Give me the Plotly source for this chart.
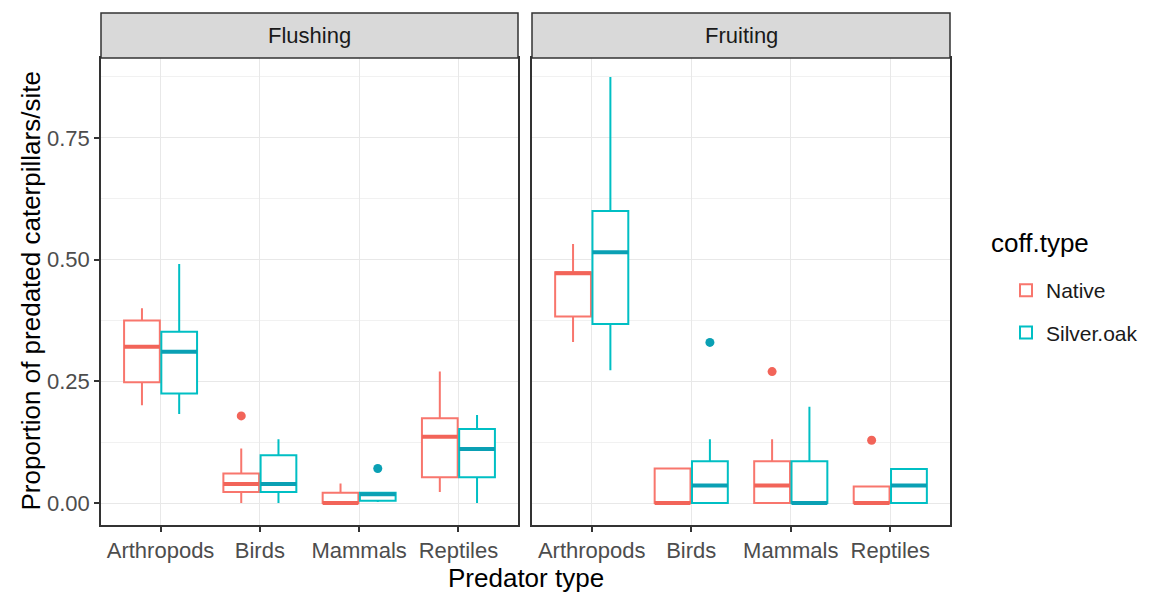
import plotly.graph_objects as go

# ---------------- data ----------------
categories = ["Arthropods", "Birds", "Mammals", "Reptiles"]
facets = ["Flushing", "Fruiting"]
series = ["Native", "Silver.oak"]

# Flushing
flush_native_low = [0.201, 0.000, 0.000, 0.023]
flush_native_q1 = [0.248, 0.023, 0.000, 0.053]
flush_native_med = [0.321, 0.039, 0.000, 0.136]
flush_native_q3 = [0.375, 0.061, 0.021, 0.174]
flush_native_high = [0.400, 0.112, 0.040, 0.270]
flush_native_out_cat = ["Birds"]
flush_native_out_val = [0.179]

flush_silver_low = [0.183, 0.000, 0.002, 0.000]
flush_silver_q1 = [0.225, 0.023, 0.005, 0.053]
flush_silver_med = [0.311, 0.039, 0.018, 0.111]
flush_silver_q3 = [0.352, 0.098, 0.021, 0.152]
flush_silver_high = [0.491, 0.131, 0.021, 0.181]
flush_silver_out_cat = ["Mammals"]
flush_silver_out_val = [0.071]

# Fruiting
fruit_native_low = [0.331, 0.000, 0.000, 0.000]
fruit_native_q1 = [0.383, 0.000, 0.000, 0.000]
fruit_native_med = [0.472, 0.000, 0.036, 0.000]
fruit_native_q3 = [0.474, 0.071, 0.086, 0.034]
fruit_native_high = [0.532, 0.071, 0.131, 0.034]
fruit_native_out_cat = ["Mammals", "Reptiles"]
fruit_native_out_val = [0.270, 0.129]

fruit_silver_low = [0.273, 0.000, 0.000, 0.000]
fruit_silver_q1 = [0.368, 0.000, 0.000, 0.000]
fruit_silver_med = [0.515, 0.036, 0.000, 0.036]
fruit_silver_q3 = [0.600, 0.086, 0.086, 0.070]
fruit_silver_high = [0.875, 0.131, 0.198, 0.070]
fruit_silver_out_cat = ["Birds"]
fruit_silver_out_val = [0.330]

y_ticks = [0.0, 0.25, 0.5, 0.75]
y_tick_labels = ["0.00", "0.25", "0.50", "0.75"]

# ---------------- styling ----------------
FONT = "Liberation Sans, Arial, sans-serif"
line_col = {"Native": "#F8766D", "Silver.oak": "#00BFC4"}
dark_col = {"Native": "#F26459", "Silver.oak": "#0AA0B4"}
DODGE = 0.1875
BOXW = 0.36

stats = {
    ("Flushing", "Native"): (flush_native_low, flush_native_q1, flush_native_med, flush_native_q3, flush_native_high, flush_native_out_cat, flush_native_out_val),
    ("Flushing", "Silver.oak"): (flush_silver_low, flush_silver_q1, flush_silver_med, flush_silver_q3, flush_silver_high, flush_silver_out_cat, flush_silver_out_val),
    ("Fruiting", "Native"): (fruit_native_low, fruit_native_q1, fruit_native_med, fruit_native_q3, fruit_native_high, fruit_native_out_cat, fruit_native_out_val),
    ("Fruiting", "Silver.oak"): (fruit_silver_low, fruit_silver_q1, fruit_silver_med, fruit_silver_q3, fruit_silver_high, fruit_silver_out_cat, fruit_silver_out_val),
}

# the page body has an 8px margin: the figure is placed at (8, 8)
OFF = 8
W, H = 1153 - OFF, 596 - OFF
panel_x = {"Flushing": (101, 518), "Fruiting": (532, 950)}
panel_top, panel_bot = 58, 525
strip_top = 13


def px(x):
    return (x - OFF) / W


def py(y):
    return 1 - (y - OFF) / H


fig = go.Figure()
axis_names = {"Flushing": ("x", "y"), "Fruiting": ("x2", "y2")}
offsets = {"Native": -DODGE, "Silver.oak": DODGE}

for f in facets:
    xa, ya = axis_names[f]
    for s in series:
        low, q1, med, q3, high, out_cat, out_val = stats[(f, s)]
        pos = [categories.index(c) + 1 + offsets[s] for c in categories]
        fig.add_trace(go.Box(
            x=pos, q1=q1, median=med, q3=q3, lowerfence=low, upperfence=high,
            width=BOXW, whiskerwidth=0, fillcolor="white",
            line=dict(color=line_col[s], width=2),
            name=s, legendgroup=s, showlegend=(f == "Flushing"),
            xaxis=xa, yaxis=ya, hoverinfo="skip",
        ))
        # thick median segments
        mx, my = [], []
        for p, m in zip(pos, med):
            mx += [p - BOXW / 2, p + BOXW / 2, None]
            my += [m, m, None]
        fig.add_trace(go.Scatter(
            x=mx, y=my, mode="lines", line=dict(color=dark_col[s], width=4),
            legendgroup=s, showlegend=False, xaxis=xa, yaxis=ya, hoverinfo="skip",
        ))
        # outliers
        ox = [categories.index(c) + 1 + offsets[s] for c in out_cat]
        fig.add_trace(go.Scatter(
            x=ox, y=out_val, mode="markers",
            marker=dict(color=dark_col[s], size=9),
            legendgroup=s, showlegend=False, xaxis=xa, yaxis=ya, hoverinfo="skip",
        ))

x_common = dict(
    range=[0.4, 4.6], tickvals=[1, 2, 3, 4], ticktext=categories,
    showgrid=True, gridcolor="#e8e8e8", gridwidth=1.2,
    showline=True, mirror=True, linecolor="#333333", linewidth=1.5,
    ticks="outside", ticklen=5, tickcolor="#333333", tickwidth=1.5,
    tickfont=dict(family=FONT, size=22, color="#4d4d4d"),
    zeroline=False, fixedrange=True,
)
y_common = dict(
    range=[-0.045, 0.914], tickvals=y_ticks, ticktext=y_tick_labels,
    showgrid=True, gridcolor="#e8e8e8", gridwidth=1.2,
    minor=dict(dtick=0.125, tick0=0.125, showgrid=True, gridcolor="#f1f1f1", gridwidth=0.8),
    showline=True, mirror=True, linecolor="#333333", linewidth=1.5,
    zeroline=False, fixedrange=True,
    domain=[py(panel_bot), py(panel_top)],
)

fig.update_layout(
    width=W, height=H,
    margin=dict(l=0, r=0, t=0, b=0),
    paper_bgcolor="white", plot_bgcolor="white",
    boxmode="overlay",
    font=dict(family=FONT, color="#1a1a1a"),
    xaxis=dict(x_common, domain=[px(panel_x["Flushing"][0]), px(panel_x["Flushing"][1])], anchor="y"),
    xaxis2=dict(x_common, domain=[px(panel_x["Fruiting"][0]), px(panel_x["Fruiting"][1])], anchor="y2"),
    yaxis=dict(y_common, anchor="x", ticks="outside", ticklen=5, tickcolor="#333333", tickwidth=1.5,
               tickfont=dict(family=FONT, size=22, color="#4d4d4d")),
    yaxis2=dict(y_common, anchor="x2", showticklabels=False, ticks="", matches="y"),
    legend=dict(
        x=px(1006), y=py(270), xanchor="left", yanchor="top",
        font=dict(family=FONT, size=21, color="#1a1a1a"),
        tracegroupgap=12, bgcolor="rgba(0,0,0,0)",
    ),
)

# facet strips
for f in facets:
    x0, x1 = panel_x[f]
    fig.add_shape(type="rect", xref="paper", yref="paper",
                  x0=px(x0), x1=px(x1), y0=py(panel_top), y1=py(strip_top),
                  fillcolor="#d9d9d9", line=dict(color="#333333", width=1.5), layer="above")
    fig.add_annotation(text=f, xref="paper", yref="paper",
                       x=px((x0 + x1) / 2), y=py((panel_top + strip_top) / 2),
                       xanchor="center", yanchor="middle",
                       showarrow=False, font=dict(family=FONT, size=22, color="#1a1a1a"))

# legend title
fig.add_annotation(text="coff.type", xref="paper", yref="paper",
                   x=px(989), y=py(243), xanchor="left", yanchor="middle",
                   showarrow=False, font=dict(family=FONT, size=26, color="#000000"))

# axis titles
fig.add_annotation(text="Predator type", xref="paper", yref="paper",
                   x=px((panel_x["Flushing"][0] + panel_x["Fruiting"][1]) / 2), y=py(578),
                   xanchor="center", yanchor="middle",
                   showarrow=False, font=dict(family=FONT, size=26, color="#000000"))
fig.add_annotation(text="Proportion of predated caterpillars/site", xref="paper", yref="paper",
                   x=px(30), y=py((panel_top + panel_bot) / 2), textangle=-90,
                   xanchor="center", yanchor="middle",
                   showarrow=False, font=dict(family=FONT, size=26, color="#000000"))

fig.write_html("out.html")
